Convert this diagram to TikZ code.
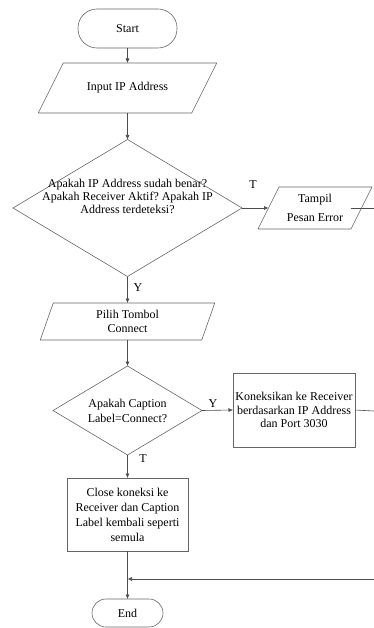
\documentclass[tikz,border=0pt]{standalone}
\usepackage{fontspec}
\setmainfont{Liberation Serif}
\usetikzlibrary{arrows.meta}
\frenchspacing
\begin{document}
\begin{tikzpicture}[x=1pt,y=-1pt,
  shp/.style={draw=black!60, line width=0.6pt},
  lnk/.style={draw=black!70, line width=0.6pt, -{Latex[length=4.5pt,width=4pt]}},
  lne/.style={draw=black!70, line width=0.6pt},
  ghost/.style={inner sep=0pt, outer sep=0pt, draw=none},
  txt/.style={font=\fontsize{12}{13.5}\selectfont, align=center, inner sep=0pt},
  lbl/.style={font=\fontsize{12}{13.5}\selectfont, inner sep=0pt}]
\useasboundingbox (0,0) rectangle (374,628);

% Start
\node[shp, rounded corners=19pt, minimum width=99pt, minimum height=39pt, txt, outer sep=0pt] (start) at (127.5,28.5) {Start};

% Input IP Address
\node[ghost, txt, minimum width=153.5pt, minimum height=50pt] (inp) at (127.5,88) {Input IP Address};
\draw[shp] ([xshift=12.5pt]inp.north west) -- ([xshift=12.5pt]inp.north east) -- ([xshift=-12.5pt]inp.south east) -- ([xshift=-12.5pt]inp.south west) -- cycle;

% Decision 1
\node[ghost, minimum width=229pt, minimum height=137pt] (d1) at (127.5,208) {};
\draw[shp] (d1.north) -- (d1.east) -- (d1.south) -- (d1.west) -- cycle;
\node[txt, font=\fontsize{12}{13}\selectfont] (d1t) at (127.5,196) {Apakah IP Address sudah benar?\\Apakah Receiver Aktif? Apakah IP\\Address terdeteksi?};

% Tampil Pesan Error
\node[ghost, txt, font=\fontsize{12}{19}\selectfont, minimum width=93pt, minimum height=42pt] (tampil) at (315,208) {Tampil\\Pesan Error};
\draw[shp] ([xshift=10.5pt]tampil.north west) -- ([xshift=10.5pt]tampil.north east) -- ([xshift=-10.5pt]tampil.south east) -- ([xshift=-10.5pt]tampil.south west) -- cycle;

% Pilih Tombol Connect
\node[ghost, txt, font=\fontsize{12}{14}\selectfont, minimum width=161.5pt, minimum height=37pt] (pilih) at (127.5,321.5) {Pilih Tombol\\Connect};
\draw[shp] ([xshift=6.5pt]pilih.north west) -- ([xshift=6.5pt]pilih.north east) -- ([xshift=-6.5pt]pilih.south east) -- ([xshift=-6.5pt]pilih.south west) -- cycle;

% Decision 2
\node[ghost, minimum width=149pt, minimum height=89pt] (d2) at (127.5,410.5) {};
\draw[shp] (d2.north) -- (d2.east) -- (d2.south) -- (d2.west) -- cycle;
\node[txt, font=\fontsize{12}{15}\selectfont] (d2t) at (127.5,410.5) {Apakah Caption\\Label=Connect?};

% Koneksikan
\node[shp, txt, minimum width=122pt, minimum height=74pt, outer sep=0pt] (kon) at (294,410) {Koneksikan ke Receiver\\berdasarkan IP Address\\dan Port 3030};

% Close
\node[shp, txt, font=\fontsize{12}{15}\selectfont, minimum width=121pt, minimum height=73pt, outer sep=0pt] (close) at (127.5,514.5) {Close koneksi ke\\Receiver dan Caption\\Label kembali seperti\\semula};

% End
\node[shp, rounded corners=14pt, minimum width=71pt, minimum height=28pt, txt, outer sep=0pt] (stop) at (127.5,613) {End};

% free ends
\coordinate (r1) at (374,208);
\coordinate (r2) at (374,411);
\coordinate (r3) at (374,579);
\coordinate (j) at (127.5,579);

% connectors
\draw[lnk] (start) -- (inp);
\draw[lnk] (inp) -- (d1.north);
\draw[lnk] (d1.east) -- (tampil.west);
\draw[lne] ([xshift=-10.5pt]tampil.east) -- (r1);
\draw[lnk] (d1.south) -- (pilih.north);
\draw[lnk] (pilih.south) -- (d2.north);
\draw[lnk] (d2.east) -- (kon.west);
\draw[lne] (kon.east) -- (r2);
\draw[lnk] (d2.south) -- (close.north);
\draw[lnk] (close.south) -- (stop.north);
\draw[lnk] (r3) -- (j);

% labels
\node[lbl] (lt1) at (253,185) {T};
\node[lbl] (ly1) at (138,288) {Y};
\node[lbl] (ly2) at (213,404) {Y};
\node[lbl] (lt2) at (143,459) {T};
\end{tikzpicture}
\end{document}
